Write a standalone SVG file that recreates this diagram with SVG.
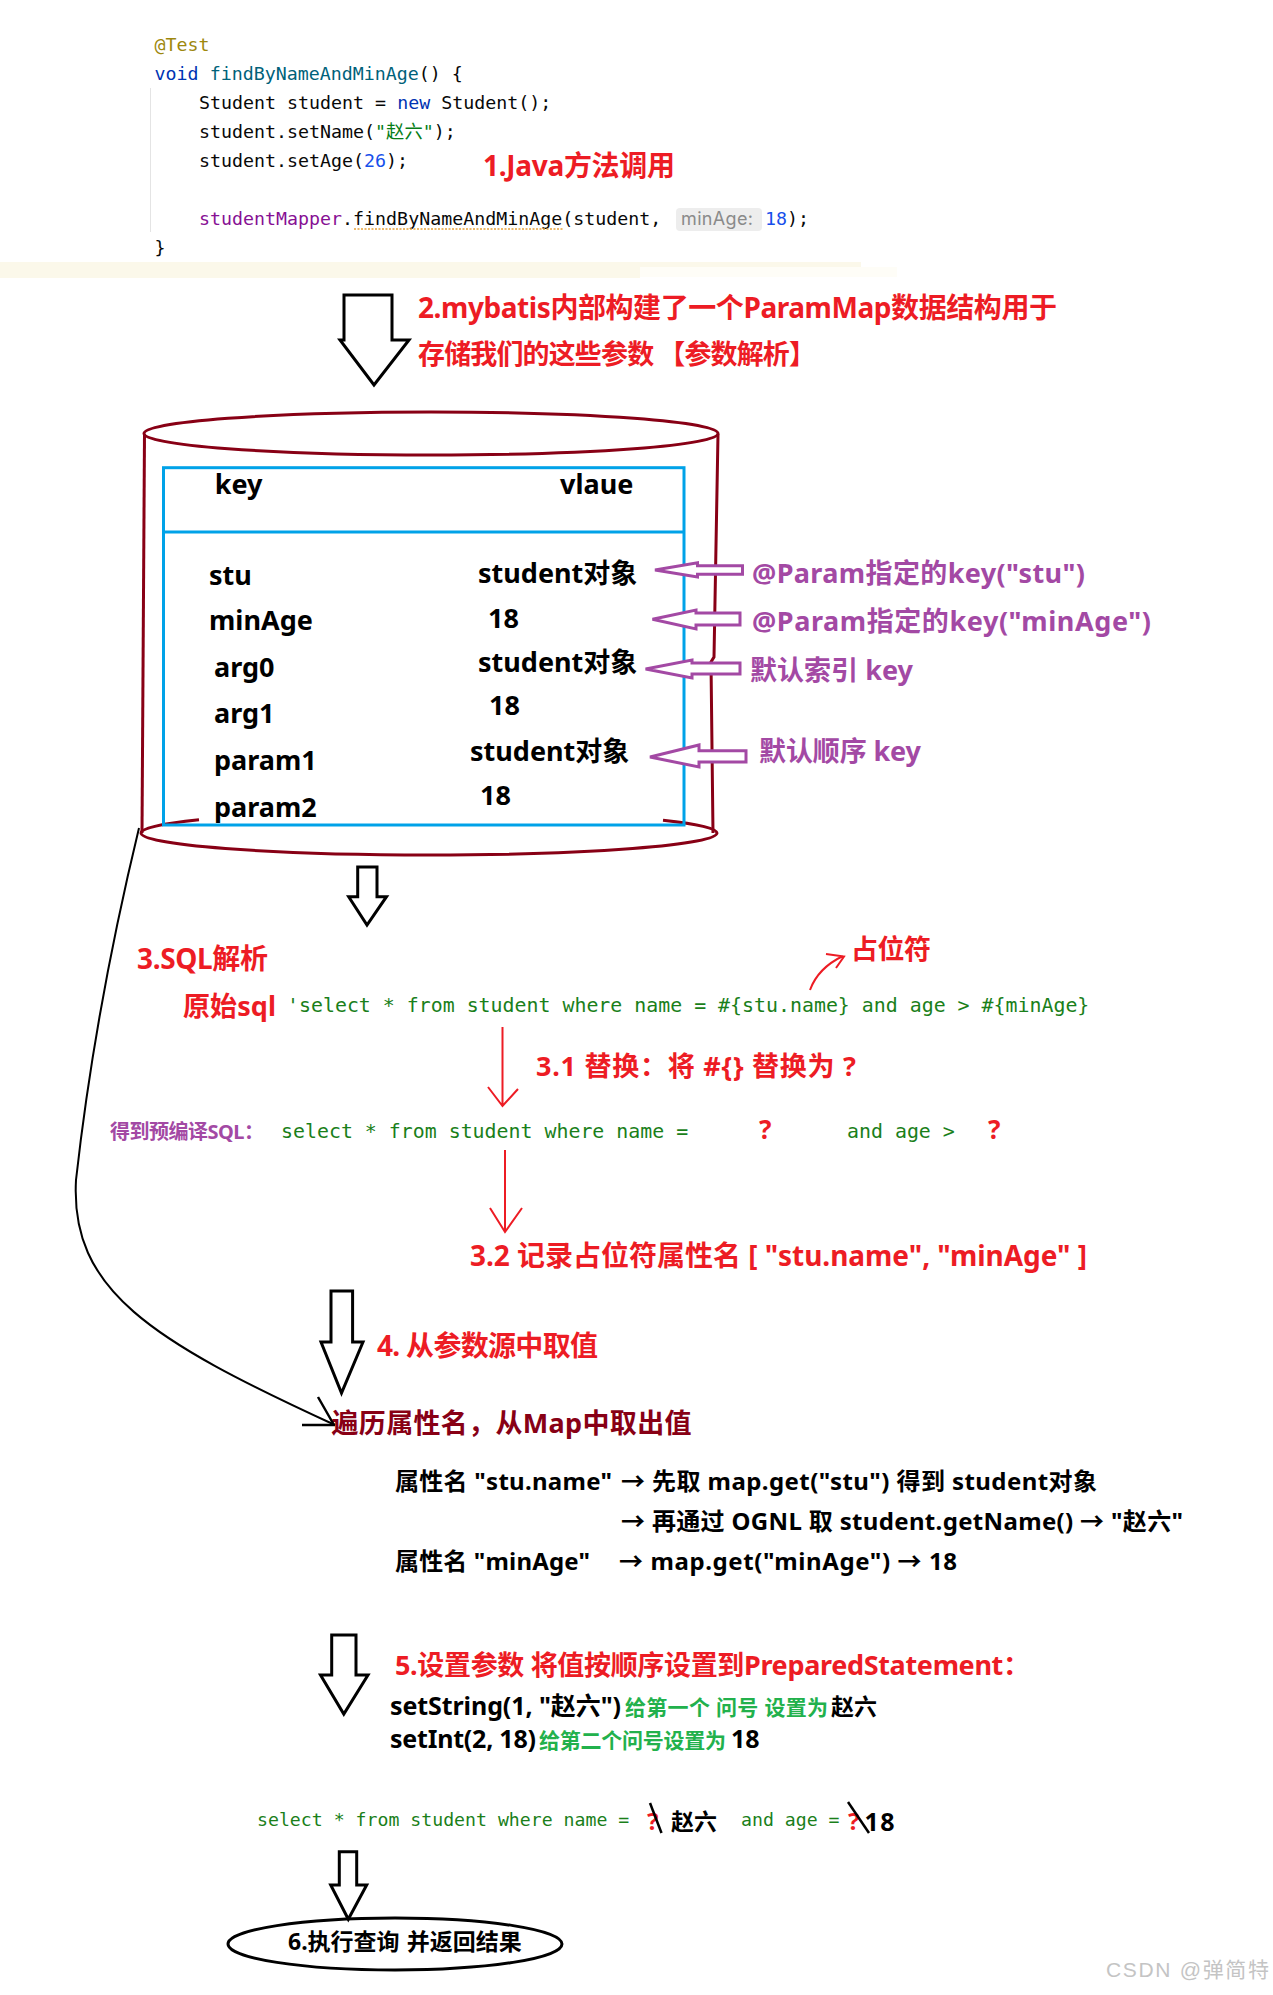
<svg xmlns="http://www.w3.org/2000/svg" width="1273" height="1995" viewBox="0 0 1273 1995">
<style>
.sb{font-family:'Noto Sans','Noto Sans CJK SC',sans-serif;font-weight:700}
.mono{font-family:'DejaVu Sans Mono','Noto Sans CJK SC',monospace}
.code{font-size:18.3px;fill:#080808}
.red{fill:#ed1c24}
.pur{fill:#a349a4}
.mar{fill:#880015}
.blk{fill:#000}
.grn{fill:#22b14c}
.sql{fill:#1a7f1a;font-size:19.9px}
.sql2{fill:#1a7f1a;font-size:18.2px}
.hollow{fill:#fff;stroke:#000;stroke-width:3;stroke-linejoin:miter}
.parr{fill:#fff;stroke:#a349a4;stroke-width:3;stroke-linejoin:miter}
.thin{fill:none;stroke:#ed1c24;stroke-width:2}
.cyl{fill:none;stroke:#880015;stroke-width:3}
</style>
<rect width="1273" height="1995" fill="#fff"/>
<g id="band">
<rect x="0" y="262" width="640" height="16" fill="#fbf8ea"/>
<rect x="640" y="262" width="221" height="5" fill="#fbf8ea"/>
<rect x="640" y="267" width="257" height="10" fill="#fefdf7"/>
</g>
<g id="code" class="mono code" xml:space="preserve">
<line x1="150.5" y1="88" x2="150.5" y2="232" stroke="#e4e4e4" stroke-width="1"/>
<text x="154.6" y="51" fill="#9e880d">@Test</text>
<text x="154.6" y="80"><tspan fill="#0033b3">void</tspan> <tspan fill="#00627a">findByNameAndMinAge</tspan>() {</text>
<text x="199" y="109">Student student = <tspan fill="#0033b3">new</tspan> Student();</text>
<text x="199" y="138">student.setName(<tspan fill="#067d17">"赵六"</tspan>);</text>
<text x="199" y="167">student.setAge(<tspan fill="#1750eb">26</tspan>);</text>
<text x="199" y="225"><tspan fill="#871094">studentMapper</tspan>.findByNameAndMinAge(student, </text>
<line x1="354" y1="229" x2="563" y2="229" stroke="#e8a23a" stroke-width="1.5" stroke-dasharray="2,1.5"/>
<rect x="676" y="208" width="86" height="23" rx="4" fill="#ededed"/>
<text x="681" y="225" font-family="Inter,'Liberation Sans',sans-serif" font-size="18" fill="#8a8a8a" textLength="72">minAge:</text>
<text x="765" y="225"><tspan fill="#1750eb">18</tspan>);</text>
<text x="154.6" y="254">}</text>
</g>
<g id="step1"><text class="sb red" x="483" y="176" font-size="28" textLength="192">1.Java方法调用</text></g>
<g id="step2">
<text class="sb red" x="418" y="318" font-size="28" textLength="639">2.mybatis内部构建了一个ParamMap数据结构用于</text>
<text class="sb red" x="418" y="364" font-size="27" textLength="398">存储我们的这些参数<tspan dx="5">【参数解析】</tspan></text>
</g>
<g id="parammap">
<ellipse class="cyl" cx="431" cy="433.5" rx="287" ry="21.5"/>
<line class="cyl" x1="144.5" y1="434" x2="142" y2="833"/>
<polyline class="cyl" points="718,434 714,657 711,662 713,833"/>
<path class="cyl" d="M141,833 A288,22 0 0,0 717,833"/>
<path class="cyl" d="M141,833 A288,22 0 0,1 199,819.8"/>
<path class="cyl" d="M663,820.2 A288,22 0 0,1 717,833"/>
<rect x="163.5" y="467.7" width="520.5" height="357.3" fill="none" stroke="#00a2e8" stroke-width="3"/>
<line x1="163.5" y1="532" x2="684" y2="532" stroke="#00a2e8" stroke-width="3"/>
<g class="sb blk" font-size="27">
<text x="214.7" y="494">key</text>
<text x="560" y="494">vlaue</text>
<text x="209" y="585">stu</text>
<text x="209" y="630">minAge</text>
<text x="214" y="677">arg0</text>
<text x="214" y="723">arg1</text>
<text x="214" y="770">param1</text>
<text x="214" y="817">param2</text>
<text x="478" y="583">student对象</text>
<text x="488" y="628">18</text>
<text x="478" y="672">student对象</text>
<text x="489" y="715">18</text>
<text x="470" y="761">student对象</text>
<text x="480" y="805">18</text>
</g>
</g>
<g id="keylabels" class="sb pur" font-size="27">
<text x="752" y="583" textLength="333">@Param指定的key("stu")</text>
<text x="752" y="631" textLength="399">@Param指定的key("minAge")</text>
<text x="750" y="680" textLength="163">默认索引 key</text>
<text x="759" y="761" textLength="162">默认顺序 key</text>
</g>
<g id="sqlparse">
<text class="sb red" x="137" y="969" font-size="28" textLength="131">3.SQL解析</text>
<text class="sb red" x="183" y="1016" font-size="27" textLength="93">原始sql</text>
<text class="mono sql" x="287" y="1012" xml:space="preserve">'select * from student where name = #{stu.name} and age &gt; #{minAge}</text>
<text class="sb red" x="851" y="959" font-size="27" textLength="80">占位符</text>
<text class="sb red" x="536" y="1076" font-size="27" textLength="320">3.1 替换：将 #{} 替换为 ?</text>
<text class="sb pur" x="110" y="1139" font-size="20" textLength="154">得到预编译SQL：</text>
<text class="mono sql" x="281" y="1138" xml:space="preserve">select * from student where name =</text>
<text class="sb red" x="759" y="1139" font-size="26">?</text>
<text class="mono sql" x="847" y="1138" xml:space="preserve">and age &gt;</text>
<text class="sb red" x="988" y="1139" font-size="26">?</text>
<text class="sb red" x="470" y="1266" font-size="28" textLength="617">3.2 记录占位符属性名 [ "stu.name", "minAge" ]</text>
</g>
<g id="step4">
<text class="sb red" x="377" y="1356" font-size="28" textLength="221">4. 从参数源中取值</text>
<text class="sb mar" x="331.5" y="1433" font-size="27" textLength="360">遍历属性名，从Map中取出值</text>
<g class="sb blk" font-size="24">
<text x="395" y="1490" textLength="217">属性名 "stu.name"</text>
<text x="621" y="1490" textLength="476">→ 先取 map.get("stu") 得到 student对象</text>
<text x="621" y="1530" textLength="562">→ 再通过 OGNL 取 student.getName() → "赵六"</text>
<text x="395" y="1570" textLength="195">属性名 "minAge"</text>
<text x="619" y="1570" textLength="338">→ map.get("minAge") → 18</text>
</g>
</g>
<g id="step5">
<text class="sb red" x="395" y="1675" font-size="27" textLength="635">5.设置参数 将值按顺序设置到PreparedStatement：</text>
<text class="sb blk" x="390" y="1715" font-size="25" textLength="231">setString(1, "赵六")</text>
<text class="sb grn" x="625" y="1715" font-size="21" textLength="203">给第一个 问号 设置为</text>
<text class="sb blk" x="831" y="1715" font-size="23" textLength="46">赵六</text>
<text class="sb blk" x="390" y="1748" font-size="25" textLength="146">setInt(2, 18)</text>
<text class="sb grn" x="539" y="1748" font-size="21" textLength="187">给第二个问号设置为</text>
<text class="sb blk" x="731" y="1748" font-size="25">18</text>
</g>
<g id="finalsql">
<text class="mono sql2" x="257" y="1826" xml:space="preserve">select * from student where name =</text>
<text class="sb red" x="647" y="1830" font-size="24">?</text>
<line x1="650" y1="1803" x2="661.5" y2="1833" stroke="#000" stroke-width="2.5"/>
<text class="sb blk" x="671" y="1830" font-size="23" textLength="46">赵六</text>
<text class="mono sql2" x="741" y="1826" xml:space="preserve">and age =</text>
<text class="sb red" x="848" y="1830" font-size="24">?</text>
<line x1="848" y1="1802" x2="869" y2="1833" stroke="#000" stroke-width="2.5"/>
<text class="sb blk" x="864.5" y="1831" font-size="25" textLength="30">18</text>
</g>
<g id="result">
<ellipse cx="395" cy="1944" rx="167" ry="26" fill="#fff" stroke="#000" stroke-width="3"/>
<text class="sb blk" x="288" y="1950" font-size="23">6.执行查询<tspan dx="7">并返回结果</tspan></text>
</g>
<g id="connectors">
<polygon class="hollow" points="344,295 392,295 392,340 409,340 374,385 340,340 344,340" stroke-width="3.5"/>
<polygon class="hollow" points="357.7,867 377,867 377,896.7 386.5,896.7 367,925 348.7,896.7 357.7,896.7"/>
<polygon class="hollow" points="331,1291 352.6,1291 352.6,1342 363,1342 341.5,1393 321,1342 331,1342"/>
<polygon class="hollow" points="331.7,1635 356,1635 356,1675 368,1675 343.8,1714 320.5,1675 331.7,1675"/>
<polygon class="hollow" points="339.3,1851.7 356.7,1851.7 356.7,1885 366.7,1885 348.3,1919.3 330.7,1885 339.3,1885"/>
<polygon class="parr" points="655,570 697.5,562.7 697.5,565.7 742.5,565.7 742.5,574.3 697.5,574.3 697.5,577"/>
<polygon class="parr" points="652.5,619.3 696,610 696,613 740,613 740,625 696,625 696,629"/>
<polygon class="parr" points="645.6,669 692,660 692,663 740,663 740,674 692,674 692,678"/>
<polygon class="parr" points="650,757 699,745 699,750.7 746,750.7 746,762 699,762 699,767"/>
<path class="thin" d="M810,990 Q818,968 843,956 M826,954 L844,956.5 L836,968"/>
<path class="thin" d="M502.5,1027 L502.5,1105 M488,1087 L502.5,1106 L518,1089"/>
<path class="thin" d="M505,1150 L505,1231 M490,1208 L505,1232 L522,1208"/>
<path d="M139,828 Q95,1010 76,1180 C70,1290 150,1340 335,1425" fill="none" stroke="#000" stroke-width="2"/>
<path d="M318,1397 L334,1425 M302,1425 L335,1425" fill="none" stroke="#000" stroke-width="2.5"/>
</g>
<g id="watermark">
<text x="1106" y="1977" font-family="'Liberation Sans','Noto Sans CJK SC',sans-serif" font-size="21" fill="#c4c4c4" textLength="163">CSDN @弹简特</text>
</g>
</svg>
